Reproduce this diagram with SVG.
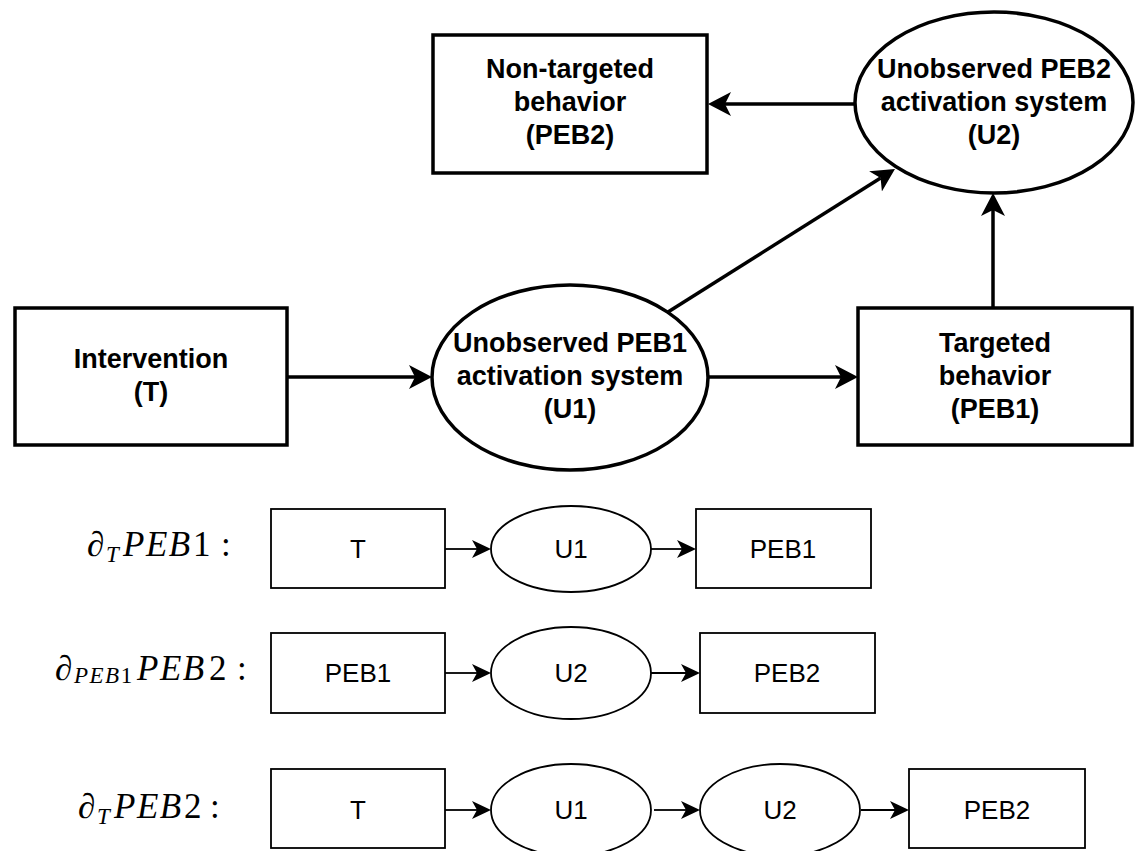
<svg xmlns="http://www.w3.org/2000/svg" width="1141" height="851" viewBox="0 0 1141 851">
<style>
.big{fill:#fff;stroke:#000;stroke-width:3.5}
.sm{fill:#fff;stroke:#000;stroke-width:1.8}
.bt{font-family:"Liberation Sans",Arial,sans-serif;font-weight:bold;font-size:27px;text-anchor:middle;fill:#000}
.st{font-family:"Liberation Sans",Arial,sans-serif;font-size:26px;text-anchor:middle;fill:#000}
.math{font-family:"Liberation Serif","Times New Roman",serif;font-size:35px;fill:#000}
.it{font-style:italic}
.sub{font-size:23px}
.cb{fill:none;stroke:#000;stroke-width:3.5}
.cs{fill:none;stroke:#000;stroke-width:1.8}
</style>
<defs>
<marker id="ab" viewBox="0 -12 23 24" refX="6" refY="0" markerWidth="23" markerHeight="24" markerUnits="userSpaceOnUse" orient="auto">
<path d="M23,0 L0,-12 L6,0 L0,12 Z" fill="#000"/>
</marker>
<marker id="as" viewBox="0 -9 19 18" refX="5" refY="0" markerWidth="19" markerHeight="18" markerUnits="userSpaceOnUse" orient="auto">
<path d="M19,0 L0,-9 L5,0 L0,9 Z" fill="#000"/>
</marker>
</defs>

<g id="connectors">
<line class="cb" x1="855" y1="104" x2="725" y2="104" marker-end="url(#ab)"/>
<line class="cb" x1="668" y1="312" x2="880.6" y2="178.1" marker-end="url(#ab)"/>
<line class="cb" x1="993" y1="308" x2="993" y2="210" marker-end="url(#ab)"/>
<line class="cb" x1="287" y1="377" x2="415" y2="377" marker-end="url(#ab)"/>
<line class="cb" x1="708" y1="377" x2="841" y2="377" marker-end="url(#ab)"/>
<line class="cs" x1="445" y1="549" x2="477" y2="549" marker-end="url(#as)"/>
<line class="cs" x1="651" y1="549" x2="682" y2="549" marker-end="url(#as)"/>
<line class="cs" x1="445" y1="673" x2="477" y2="673" marker-end="url(#as)"/>
<line class="cs" x1="651" y1="673" x2="686" y2="673" marker-end="url(#as)"/>
<line class="cs" x1="445" y1="810" x2="477" y2="810" marker-end="url(#as)"/>
<line class="cs" x1="654" y1="810" x2="686" y2="810" marker-end="url(#as)"/>
<line class="cs" x1="861" y1="810" x2="895" y2="810" marker-end="url(#as)"/>
</g>

<g id="peb2-top">
<rect class="big" x="433" y="35" width="274" height="138"/>
<text class="bt" x="570" y="78">Non-targeted</text>
<text class="bt" x="570" y="111">behavior</text>
<text class="bt" x="570" y="144">(PEB2)</text>
</g>
<g id="u2-top">
<ellipse class="big" cx="994" cy="102.5" rx="139" ry="90.5"/>
<text class="bt" x="994" y="78">Unobserved PEB2</text>
<text class="bt" x="994" y="111">activation system</text>
<text class="bt" x="994" y="144">(U2)</text>
</g>
<g id="t-top">
<rect class="big" x="15" y="308" width="272" height="137"/>
<text class="bt" x="151" y="368">Intervention</text>
<text class="bt" x="151" y="401">(T)</text>
</g>
<g id="u1-top">
<ellipse class="big" cx="570" cy="377.5" rx="138" ry="92.5"/>
<text class="bt" x="570" y="352">Unobserved PEB1</text>
<text class="bt" x="570" y="385">activation system</text>
<text class="bt" x="570" y="418">(U1)</text>
</g>
<g id="peb1-top">
<rect class="big" x="858" y="308" width="274" height="137"/>
<text class="bt" x="995" y="352">Targeted</text>
<text class="bt" x="995" y="385">behavior</text>
<text class="bt" x="995" y="418">(PEB1)</text>
</g>

<g id="label1">
<text class="math" y="556"><tspan x="87">∂</tspan><tspan class="it sub" x="106" dy="6">T</tspan><tspan class="it" x="123" dy="-6" letter-spacing="1.5">PEB</tspan><tspan x="193">1</tspan><tspan x="221">:</tspan></text>
</g>
<g id="row1-t"><rect class="sm" x="271" y="509" width="174" height="79"/><text class="st" x="358" y="558">T</text></g>
<g id="row1-u1"><ellipse class="sm" cx="571" cy="549" rx="80" ry="43"/><text class="st" x="571" y="558">U1</text></g>
<g id="row1-peb1"><rect class="sm" x="696" y="509" width="175" height="79"/><text class="st" x="783" y="558">PEB1</text></g>

<g id="label2">
<text class="math" y="680"><tspan x="55">∂</tspan><tspan class="it sub" x="74" dy="3" letter-spacing="1.5">PEB</tspan><tspan class="sub">1</tspan><tspan class="it" x="137" dy="-3" letter-spacing="1.5">PEB</tspan><tspan x="209">2</tspan><tspan x="237">:</tspan></text>
</g>
<g id="row2-peb1"><rect class="sm" x="271" y="633" width="174" height="80"/><text class="st" x="358" y="682">PEB1</text></g>
<g id="row2-u2"><ellipse class="sm" cx="571" cy="673" rx="80" ry="46"/><text class="st" x="571" y="682">U2</text></g>
<g id="row2-peb2"><rect class="sm" x="700" y="633" width="175" height="80"/><text class="st" x="787" y="682">PEB2</text></g>

<g id="label3">
<text class="math" y="818"><tspan x="78">∂</tspan><tspan class="it sub" x="97" dy="6">T</tspan><tspan class="it" x="114" dy="-6" letter-spacing="1.5">PEB</tspan><tspan x="184">2</tspan><tspan x="210">:</tspan></text>
</g>
<g id="row3-t"><rect class="sm" x="271" y="769" width="174" height="79"/><text class="st" x="358" y="819">T</text></g>
<g id="row3-u1"><ellipse class="sm" cx="571" cy="810" rx="80" ry="46"/><text class="st" x="571" y="819">U1</text></g>
<g id="row3-u2"><ellipse class="sm" cx="780" cy="810" rx="80" ry="46"/><text class="st" x="780" y="819">U2</text></g>
<g id="row3-peb2"><rect class="sm" x="909" y="769" width="176" height="79"/><text class="st" x="997" y="819">PEB2</text></g>
</svg>
